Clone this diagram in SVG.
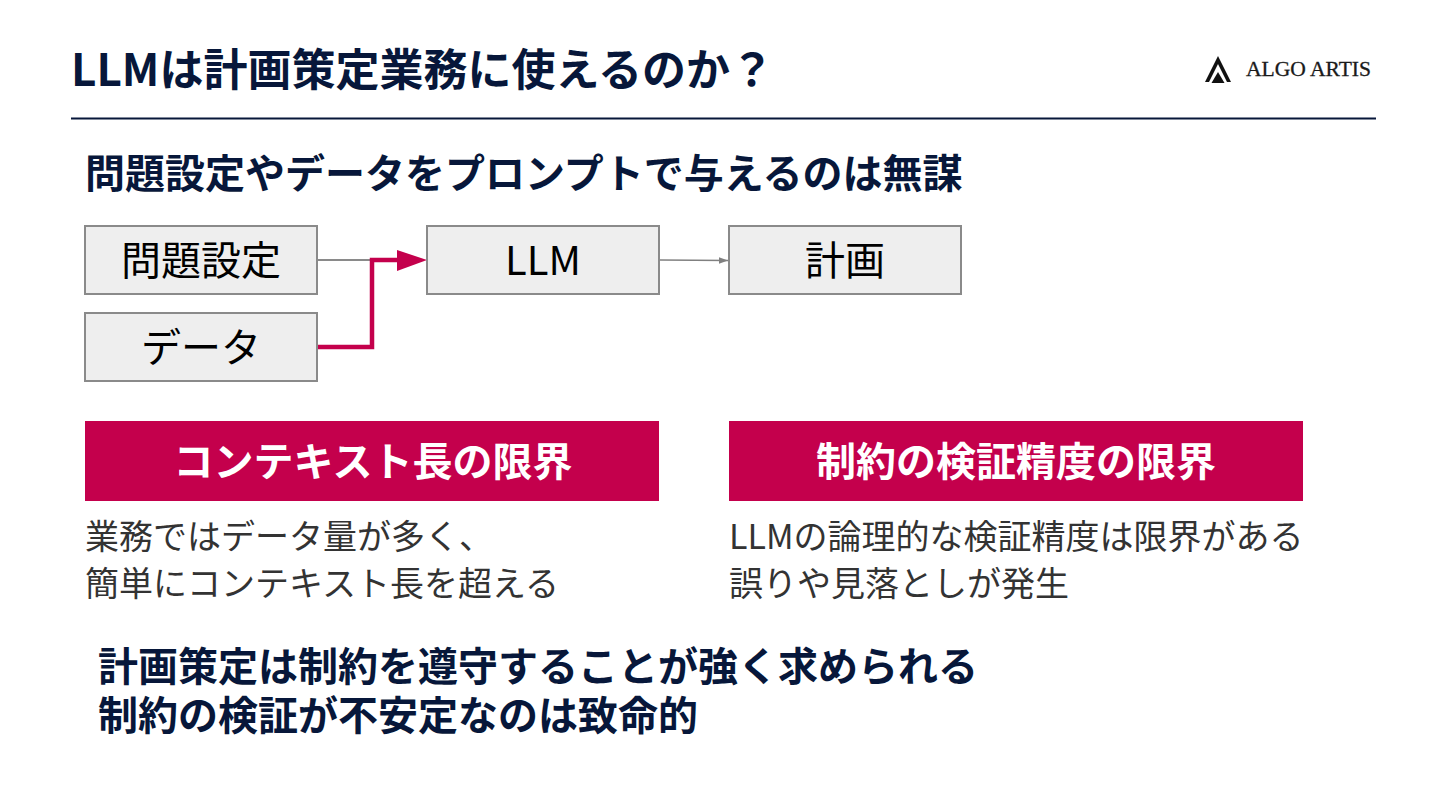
<svg xmlns="http://www.w3.org/2000/svg" width="1440" height="810" viewBox="0 0 1440 810">
<style>
text{font-family:"Noto Sans CJK JP","Noto Sans",sans-serif}
.b{font-weight:700;fill:#07173a}
.box{fill:#eeeeee;stroke:#8a8a8a;stroke-width:2}
.bt{font-size:40px;fill:#000;text-anchor:middle}
.band{fill:#c4004c}
.wt{font-size:40px;font-weight:700;fill:#fff;text-anchor:middle}
.body{font-size:34px;fill:#333333}
.h{font-size:40px}
</style>
<defs>
<marker id="ag" markerUnits="userSpaceOnUse" markerWidth="10" markerHeight="8" refX="9" refY="4" orient="auto"><path d="M0 0.8L9 4L0 7.2Z" fill="#808080"/></marker>
</defs>
<rect width="1440" height="810" fill="#fff"/>
<text id="title" class="b" x="71" y="86" font-size="44">LLMは計画策定業務に使えるのか？</text>
<line x1="71" y1="118.500" x2="1376" y2="118.500" stroke="#07173a" stroke-width="2"/>
<g id="logo">
<path d="M1218 56L1231 82H1227L1218 64L1209 82H1205Z" fill="#111"/>
<path d="M1218 72L1224.500 83H1211.500Z" fill="#111"/>
<text x="1246" y="76" font-size="20" stroke="#1a1a1a" stroke-width="0.300" style="font-family:'Liberation Serif',serif" fill="#1a1a1a" textLength="125" lengthAdjust="spacingAndGlyphs">ALGO ARTIS</text>
</g>
<text id="heading" class="b h" x="85" y="188">問題設定やデータをプロンプトで与えるのは無謀</text>
<g id="connectors" fill="none">
<line x1="318" y1="260" x2="374" y2="260" stroke="#8a8a8a" stroke-width="2"/>
<line x1="660" y1="260" x2="728" y2="260.500" stroke="#808080" stroke-width="1.500" marker-end="url(#ag)"/>
<path d="M318 347H372V260H400" stroke="#c4004c" stroke-width="4.500"/>
<path d="M397 250L427 260L397 271Z" fill="#c4004c"/>
</g>
<g id="node-problem"><rect class="box" x="85" y="226" width="232" height="68"/><text class="bt" x="201" y="275">問題設定</text></g>
<g id="node-data"><rect class="box" x="85" y="313" width="232" height="68"/><text class="bt" x="201" y="362">データ</text></g>
<g id="node-llm"><rect class="box" x="427" y="226" width="232" height="68"/><text class="bt" x="543" y="275">LLM</text></g>
<g id="node-plan"><rect class="box" x="729" y="226" width="232" height="68"/><text class="bt" x="845" y="275">計画</text></g>
<g id="panel-left">
<rect class="band" x="85" y="421" width="574" height="80"/>
<text class="wt" x="373" y="476">コンテキスト長の限界</text>
<text class="body"><tspan x="85" y="549">業務ではデータ量が多く、</tspan><tspan x="85" y="596">簡単にコンテキスト長を超える</tspan></text>
</g>
<g id="panel-right">
<rect class="band" x="729" y="421" width="574" height="80"/>
<text class="wt" x="1016" y="476">制約の検証精度の限界</text>
<text class="body"><tspan x="729" y="549">LLMの論理的な検証精度は限界がある</tspan><tspan x="729" y="596">誤りや見落としが発生</tspan></text>
</g>
<g id="conclusion">
<text class="b h"><tspan x="98" y="681">計画策定は制約を遵守することが強く求められる</tspan><tspan x="98" y="730">制約の検証が不安定なのは致命的</tspan></text>
</g>
</svg>
